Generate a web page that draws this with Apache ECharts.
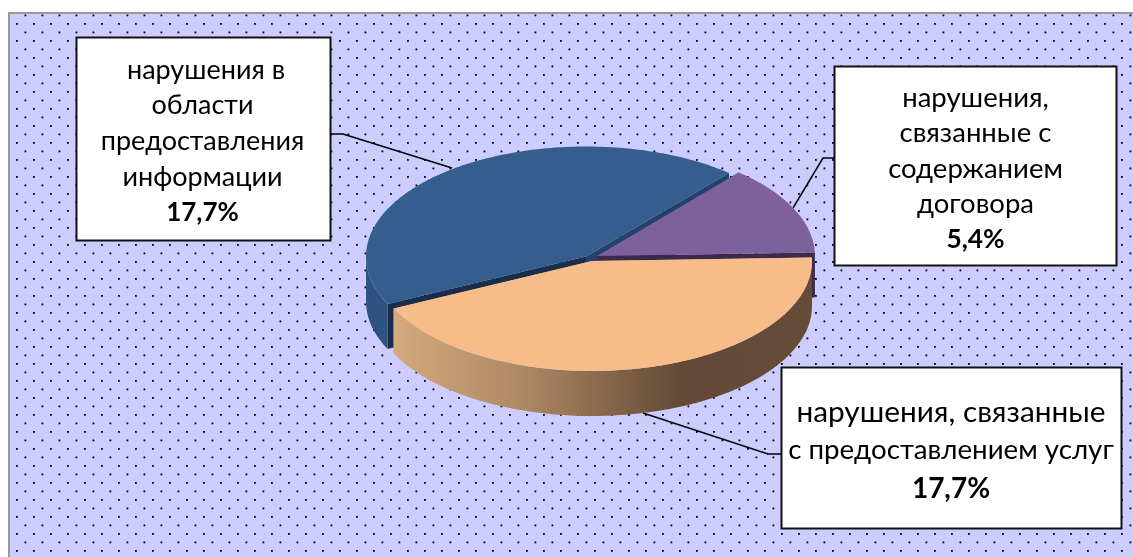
<!DOCTYPE html>
<html><head><meta charset="utf-8">
<style>html,body{margin:0;padding:0;background:#fff}#c{width:1133px;height:557px}</style>
<script src="https://cdn.jsdelivr.net/npm/echarts@6/dist/echarts.min.js"></script>
</head><body><div id="c"></div>
<script>
// ---- data ----
var categories = ['нарушения, связанные с содержанием договора',
                  'нарушения в области предоставления информации',
                  'нарушения, связанные с предоставлением услуг'];
var values = [5.4, 17.7, 17.7];
var percentLabels = ['5,4%', '17,7%', '17,7%'];
var labelLines = [
  ['нарушения,', 'связанные с', 'содержанием', 'договора'],
  ['нарушения в', 'области', 'предоставления', 'информации'],
  ['нарушения, связанные', 'с предоставлением услуг']
];
// ---- layout / style ----
var FONT = 'Lato, "Open Sans", sans-serif';
var RY = 110, DEPTH = 45, START = 1.8;
var sliceLayout = [
  {cx: 597, cy: 256, rx: 218, top: '#7e609c', face: '#3a2a4e'},
  {cx: 586, cy: 256.5, rx: 220, top: '#355e8e', wall: '#2d5380', face: '#1a2e4c', face2: '#21426b'},
  {cx: 592, cy: 261, rx: 220, top: '#f6bc89', face: '#d2a87c'}
];
var boxes = [
  {x: 834.5, y: 66.5, w: 282, h: 199, ty: 98, lh: 35.5, cx: 975.5, sizes: [27.5, 27.5, 27.5, 27.5, 26.3], dx: [0, 0, 0, 0, 0]},
  {x: 76.5, y: 37.5, w: 254, h: 203, ty: 70, lh: 35.6, cx: 202.5, sizes: [27, 27, 27, 27, 26], dx: [3.5, 0, 0, 0, 0]},
  {x: 781.5, y: 367.5, w: 340, h: 161, ty: 412, lh: 38.5, cx: 951, sizes: [29.8, 27.7, 28], dx: [0, 0, 0]}
];
var leaders = [
  [[834, 158], [823, 158], [793, 208]],
  [[330, 134], [343, 134], [452, 168]],
  [[643, 413], [768, 454], [781, 454]]
];
var drawOrder = [1, 0, 2];

function pt(l, deg, dy) {
  var a = deg * Math.PI / 180;
  return [l.cx + l.rx * Math.cos(a), l.cy - RY * Math.sin(a) + (dy || 0)];
}
function arcPts(l, a0, a1, dy) {
  var pts = [], n = Math.max(2, Math.ceil(Math.abs(a1 - a0)));
  for (var i = 0; i <= n; i++) pts.push(pt(l, a0 + (a1 - a0) * i / n, dy));
  return pts;
}
var total = values.reduce(function (a, b) { return a + b; }, 0);
var angles = [], cur = START;
values.forEach(function (v) {
  var sweep = v / total * 360;
  angles.push([cur, cur + sweep]);
  cur += sweep;
});

function poly(points, fill) {
  return {type: 'polygon', shape: {points: points}, style: {fill: fill}, silent: true};
}
var orangeWall = {type: 'linear', x: 0, y: 0, x2: 1, y2: 0, colorStops: [
  {offset: 0, color: '#d4aa7e'}, {offset: 0.32, color: '#ab8763'},
  {offset: 0.68, color: '#644a36'}, {offset: 1, color: '#654c38'}]};

function renderSlice(params, api) {
  var i = api.value(0);
  var l = sliceLayout[i], a0 = angles[i][0], a1 = angles[i][1];
  var kids = [];
  var c0 = [l.cx, l.cy], c1 = [l.cx, l.cy + DEPTH];
  // radial cut faces
  kids.push(poly([c0, pt(l, a1), pt(l, a1, DEPTH), c1], l.face));
  kids.push(poly([c0, pt(l, a0), pt(l, a0, DEPTH), c1], l.face2 || l.face));
  // outer wall: only the lower half of the ellipse shows
  var w0 = Math.max(a0, 180), w1 = Math.min(a1, 360);
  if (w1 > w0) {
    kids.push(poly(arcPts(l, w0, w1).concat(arcPts(l, w1, w0, DEPTH)), l.wall || orangeWall));
  }
  // top face
  kids.push(poly([c0].concat(arcPts(l, a0, a1)), l.top));
  return {type: 'group', children: kids};
}

var patternCanvas = document.createElement('canvas');
patternCanvas.width = 17; patternCanvas.height = 17;
(function () {
  var g = patternCanvas.getContext('2d');
  g.fillStyle = '#ccccff'; g.fillRect(0, 0, 17, 17);
  g.fillStyle = '#000';
  g.fillRect(7.5, 14.5, 1.8, 1.8);
  g.fillRect(16, 6, 1, 1.8); g.fillRect(0, 6, 0.8, 1.8);
})();

var gfx = [];
gfx.push({type: 'rect', z: 0, silent: true,
  shape: {x: 9, y: 13, width: 1130, height: 550},
  style: {fill: {image: patternCanvas, repeat: 'repeat'}, stroke: '#999999', lineWidth: 2}});
leaders.forEach(function (p) {
  gfx.push({type: 'polyline', z: 1, silent: true, shape: {points: p},
    style: {stroke: '#000', lineWidth: 1.5, fill: null}});
});
boxes.forEach(function (b, i) {
  gfx.push({type: 'rect', z: 20, silent: true, shape: {x: b.x, y: b.y, width: b.w, height: b.h},
    style: {fill: '#fff', stroke: '#111', lineWidth: 2}});
  var lines = labelLines[i].concat([percentLabels[i]]);
  lines.forEach(function (t, j) {
    var bold = j === lines.length - 1;
    gfx.push({type: 'text', z: 21, silent: true,
      style: {x: b.cx + b.dx[j], y: b.ty + j * b.lh, text: t, align: 'center', verticalAlign: 'middle',
        font: (bold ? 'bold ' : '') + b.sizes[j] + 'px ' + FONT, fill: '#000'}});
  });
});

var chart = echarts.init(document.getElementById('c'), null, {renderer: 'canvas'});
chart.setOption({
  animation: false,
  backgroundColor: '#ffffff',
  graphic: {elements: gfx},
  series: [{
    type: 'custom', coordinateSystem: 'none', z: 5, clip: false,
    renderItem: renderSlice,
    data: drawOrder.map(function (i) { return {name: categories[i], value: [i, values[i]]}; })
  }]
});
</script></body></html>
